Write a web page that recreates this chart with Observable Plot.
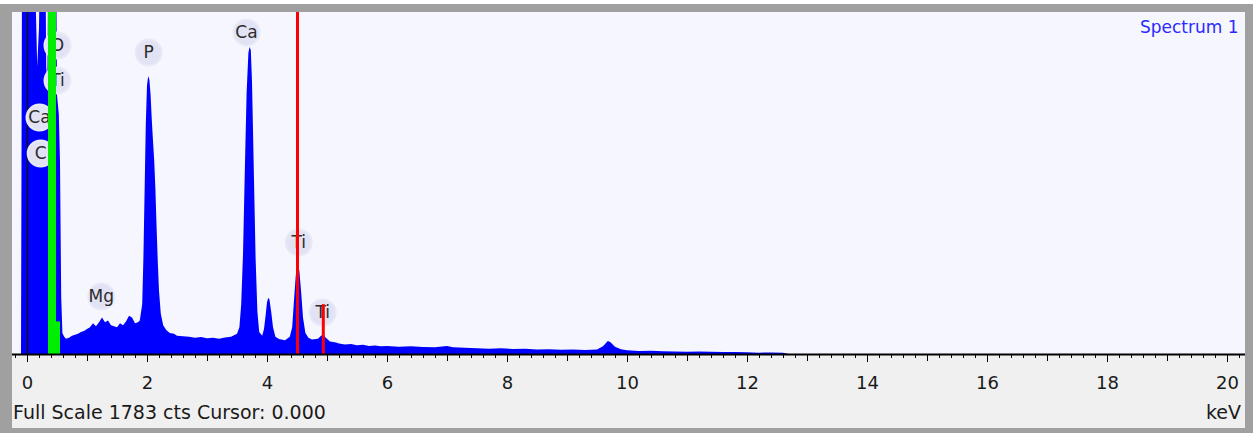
<!DOCTYPE html>
<html>
<head>
<meta charset="utf-8">
<script src="https://cdn.jsdelivr.net/npm/d3@7"></script>
<script src="https://cdn.jsdelivr.net/npm/@observablehq/plot@0.6"></script>
<style>
  html, body { margin: 0; padding: 0; background: #ffffff; }
  #wrap { position: relative; width: 1253px; height: 433px; overflow: hidden; font-family: "DejaVu Sans", sans-serif; }
  .bg { position: absolute; }
  #outer { left: 0; top: 4px; width: 1253px; height: 429px; background: #a0a0a0; }
  #panel { left: 12px; top: 12px; width: 1233px; height: 416px; background: #f0f0f0; }
  #plotbg { left: 12px; top: 12px; width: 1233px; height: 342px; background: #f6f7fe; }
  #chart { position: absolute; left: 0; top: 0; }
  .foot { position: absolute; top: 401px; font-size: 19px; color: #1a1a1a; white-space: nowrap; }
</style>
</head>
<body>
<div id="wrap">
  <div class="bg" id="outer"></div>
  <div class="bg" id="panel"></div>
  <div class="bg" id="plotbg"></div>
  <div id="chart"></div>
  <div class="foot" id="fs" style="left:13px;"></div>
  <div class="foot" id="unit" style="right:12px;"></div>
</div>
<script>
// ---- data ----
const energyKeV = [
  -0.10, -0.08, 0.00, 0.12, 0.14, 0.17, 0.20, 0.23, 0.30, 0.32, 0.34, 0.36, 0.48, 0.50, 0.53, 0.55, 0.57, 0.59, 0.62,
  0.65, 0.70, 0.75, 0.80, 0.85, 0.90, 0.95, 1.00, 1.05, 1.10, 1.15, 1.20, 1.25, 1.30, 1.35, 1.40, 1.45, 1.50, 1.55,
  1.60, 1.65, 1.70, 1.75, 1.80, 1.85, 1.88, 1.92, 1.94, 1.96, 1.98, 2.00, 2.02, 2.04, 2.06, 2.08, 2.10, 2.12, 2.14,
  2.16, 2.18, 2.20, 2.23, 2.27, 2.32, 2.38, 2.45, 2.50, 2.60, 2.70, 2.80, 2.90, 3.00, 3.10, 3.20, 3.30, 3.40, 3.45,
  3.50, 3.54, 3.57, 3.60, 3.63, 3.66, 3.69, 3.71, 3.73, 3.75, 3.78, 3.81, 3.84, 3.87, 3.92, 3.95, 3.98, 4.00, 4.02,
  4.04, 4.07, 4.10, 4.14, 4.20, 4.30, 4.38, 4.42, 4.45, 4.48, 4.50, 4.52, 4.54, 4.57, 4.60, 4.64, 4.69, 4.75, 4.85,
  4.90, 4.94, 4.98, 5.05, 5.15, 5.20, 5.30, 5.40, 5.50, 5.60, 5.70, 5.80, 5.90, 6.00, 6.20, 6.40, 6.60, 6.80, 7.00,
  7.10, 7.30, 7.50, 7.70, 7.90, 8.10, 8.30, 8.50, 8.70, 8.90, 9.10, 9.30, 9.50, 9.60, 9.68, 9.72, 9.80, 9.90, 10.00,
  10.20, 10.40, 10.60, 10.80, 11.00, 11.20, 11.40, 11.60, 11.80, 12.00, 12.20, 12.40, 12.60, 12.70, 20.30
];
const counts = [
  0, 2400, 2400, 2400, 1900, 1500, 1700, 2400, 2400, 1500, 1400, 2400, 2400, 1350, 1250, 1000, 300, 110, 90,
  80, 85, 95, 100, 105, 115, 120, 130, 140, 160, 145, 165, 190, 165, 175, 150, 145, 140, 160,
  150, 170, 200, 190, 160, 165, 175, 260, 500, 850, 1200, 1400, 1449, 1430, 1350, 1220, 1110, 1010, 860,
  660, 480, 330, 210, 150, 125, 110, 105, 95, 92, 90, 85, 88, 82, 85, 80, 86, 90, 98,
  105, 140, 260, 520, 950, 1360, 1570, 1600, 1585, 1420, 960, 500, 220, 115, 95, 130, 210, 270, 292,
  285, 220, 140, 90, 78, 72, 90, 140, 280, 410, 455, 464, 430, 320, 190, 110, 85, 75, 80,
  95, 100, 85, 65, 60, 55, 50, 52, 45, 48, 42, 44, 40, 42, 38, 40, 36, 35, 42,
  35, 33, 30, 28, 30, 26, 27, 24, 25, 22, 23, 21, 24, 40, 68, 62, 38, 25, 20,
  16, 17, 14, 13, 12, 13, 12, 11, 10, 9, 7, 8, 6, 0, 0
];
const peakLabels = ["O", "Ti", "Ca", "C", "Mg", "P", "Ca", "Ti", "Ti"];
const labelKeV   = [0.50, 0.50, 0.20, 0.22, 1.23, 2.02, 3.65, 4.52, 4.92];
const labelCts   = [1611, 1428, 1235, 1048, 302, 1574, 1679, 584, 219];
const roiBandsStart = [0.35, 0.35];
const roiBandsEnd   = [0.483, 0.55];
const roiBandsTop   = [1783, 170];
const markerKeV  = [4.50, 4.93];
const markerTop  = [1783, 260];
const majorTicks = [0, 2, 4, 6, 8, 10, 12, 14, 16, 18, 20];
const intTicks   = d3.range(0, 21, 1);
const minorTicks = d3.range(-1, 102, 1).map(i => +(i * 0.2).toFixed(1));
const fullScale  = 1783;
const title = "Spectrum 1";
const footer = "Full Scale 1783 cts Cursor: 0.000";
const unit = "keV";

const spectrum = energyKeV.map((e, i) => ({e, c: counts[i]}));
const labels = peakLabels.map((t, i) => ({t, x: labelKeV[i], y: labelCts[i]}));
const bands = roiBandsStart.map((x1, i) => ({x1, x2: roiBandsEnd[i], y: roiBandsTop[i]}));
const markers = markerKeV.map((x, i) => ({x, y: markerTop[i]}));

const chart = Plot.plot({
  width: 1253,
  height: 433,
  marginLeft: 12,
  marginRight: 8,
  marginTop: 12,
  marginBottom: 79,
  x: {domain: [-0.25, 20.3]},
  y: {domain: [0, fullScale], axis: null},
  style: {background: "transparent", fontFamily: "DejaVu Sans, sans-serif", overflow: "visible"},
  marks: [
    Plot.areaY(spectrum, {x: "e", y: "c", fill: "#0000ff", clip: true}),
    Plot.ruleX([0], {stroke: "#111", strokeWidth: 1.5}),
    Plot.dot(labels, {x: "x", y: "y", r: 13, fill: "#e1e3f5", stroke: "#e8e9f7", strokeWidth: 2}),
    Plot.text(labels, {x: "x", y: "y", text: "t", fontSize: 17, fill: "#2d2a2a"}),
    Plot.rectY(bands, {x1: "x1", x2: "x2", y1: 0, y2: "y", fill: "#00ee00"}),
    Plot.ruleX(markers, {x: "x", y1: 0, y2: "y", stroke: "#ff0000", strokeWidth: 3}),
    Plot.axisX({ticks: minorTicks, tickSize: 4, text: null, label: null, stroke: "#000"}),
    Plot.axisX({ticks: intTicks, tickSize: 7, text: null, label: null, stroke: "#000"}),
    Plot.axisX({ticks: majorTicks, tickSize: 8, tickPadding: 14, fontSize: 18, label: null, tickFormat: d => String(d), fill: "#1a1a1a"}),
    Plot.ruleY([0], {stroke: "#000", strokeWidth: 2}),
    Plot.text([title], {frameAnchor: "top-right", dx: -7, dy: 8, fontSize: 17, fill: "#2a2aff"})
  ]
});
document.getElementById("chart").appendChild(chart);
document.getElementById("fs").textContent = footer;
document.getElementById("unit").textContent = unit;
</script>
</body>
</html>
